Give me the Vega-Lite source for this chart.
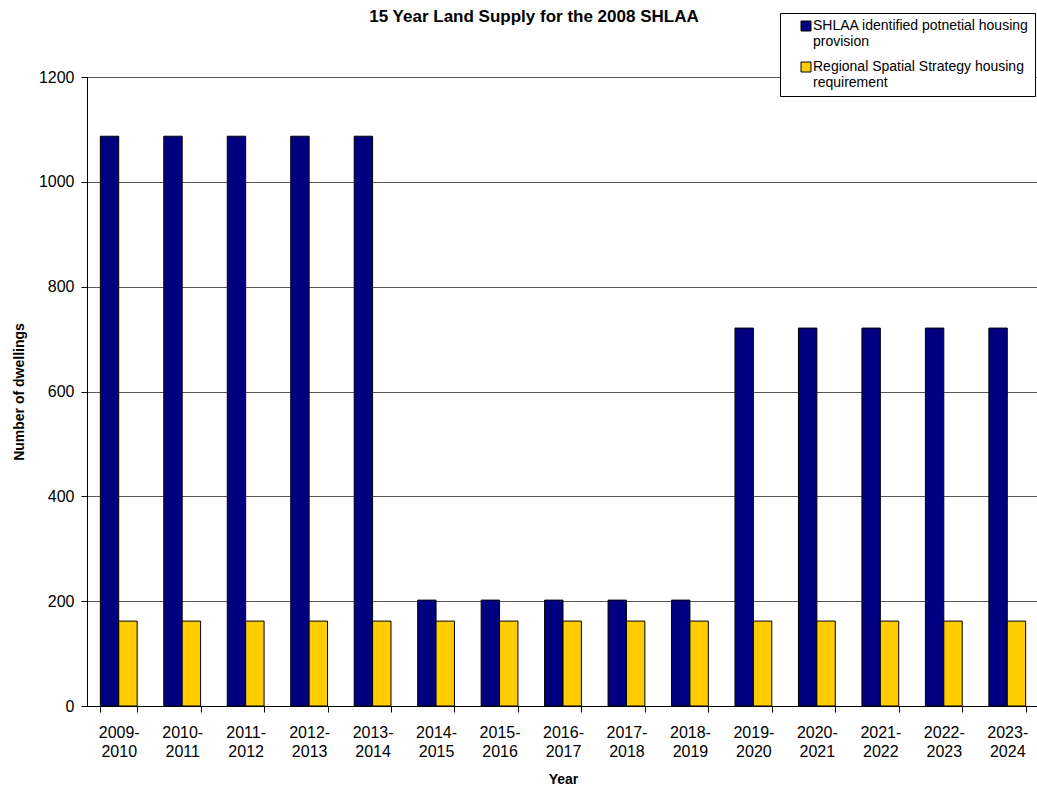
{
  "$schema": "https://vega.github.io/schema/vega-lite/v6.json",
  "width": 952,
  "height": 629,
  "autosize": {"type": "none"},
  "padding": {"left": 87, "top": 77, "right": 0, "bottom": 83},
  "background": "white",
  "title": {
    "text": "15 Year Land Supply for the 2008 SHLAA",
    "font": "Liberation Sans",
    "fontSize": 17,
    "fontWeight": "bold",
    "color": "#000",
    "anchor": "middle",
    "frame": "group",
    "dx": -29,
    "offset": -13
  },
  "config": {
    "view": {"stroke": null},
    "font": "Liberation Sans"
  },
  "data": {
    "values": [
      {"year": "2009-2010", "series": "SHLAA identified potnetial housing provision", "value": 1087},
      {"year": "2009-2010", "series": "Regional Spatial Strategy housing requirement", "value": 162},
      {"year": "2010-2011", "series": "SHLAA identified potnetial housing provision", "value": 1087},
      {"year": "2010-2011", "series": "Regional Spatial Strategy housing requirement", "value": 162},
      {"year": "2011-2012", "series": "SHLAA identified potnetial housing provision", "value": 1087},
      {"year": "2011-2012", "series": "Regional Spatial Strategy housing requirement", "value": 162},
      {"year": "2012-2013", "series": "SHLAA identified potnetial housing provision", "value": 1087},
      {"year": "2012-2013", "series": "Regional Spatial Strategy housing requirement", "value": 162},
      {"year": "2013-2014", "series": "SHLAA identified potnetial housing provision", "value": 1087},
      {"year": "2013-2014", "series": "Regional Spatial Strategy housing requirement", "value": 162},
      {"year": "2014-2015", "series": "SHLAA identified potnetial housing provision", "value": 202},
      {"year": "2014-2015", "series": "Regional Spatial Strategy housing requirement", "value": 162},
      {"year": "2015-2016", "series": "SHLAA identified potnetial housing provision", "value": 202},
      {"year": "2015-2016", "series": "Regional Spatial Strategy housing requirement", "value": 162},
      {"year": "2016-2017", "series": "SHLAA identified potnetial housing provision", "value": 202},
      {"year": "2016-2017", "series": "Regional Spatial Strategy housing requirement", "value": 162},
      {"year": "2017-2018", "series": "SHLAA identified potnetial housing provision", "value": 202},
      {"year": "2017-2018", "series": "Regional Spatial Strategy housing requirement", "value": 162},
      {"year": "2018-2019", "series": "SHLAA identified potnetial housing provision", "value": 202},
      {"year": "2018-2019", "series": "Regional Spatial Strategy housing requirement", "value": 162},
      {"year": "2019-2020", "series": "SHLAA identified potnetial housing provision", "value": 721},
      {"year": "2019-2020", "series": "Regional Spatial Strategy housing requirement", "value": 162},
      {"year": "2020-2021", "series": "SHLAA identified potnetial housing provision", "value": 721},
      {"year": "2020-2021", "series": "Regional Spatial Strategy housing requirement", "value": 162},
      {"year": "2021-2022", "series": "SHLAA identified potnetial housing provision", "value": 721},
      {"year": "2021-2022", "series": "Regional Spatial Strategy housing requirement", "value": 162},
      {"year": "2022-2023", "series": "SHLAA identified potnetial housing provision", "value": 721},
      {"year": "2022-2023", "series": "Regional Spatial Strategy housing requirement", "value": 162},
      {"year": "2023-2024", "series": "SHLAA identified potnetial housing provision", "value": 721},
      {"year": "2023-2024", "series": "Regional Spatial Strategy housing requirement", "value": 162}
    ]
  },
  "mark": {"type": "bar", "stroke": "#000", "strokeWidth": 1},
  "encoding": {
    "x": {
      "field": "year",
      "type": "nominal",
      "sort": null,
      "scale": {"paddingInner": 0.42, "paddingOuter": 0.21},
      "axis": {
        "title": "Year",
        "titleFont": "Liberation Sans",
        "titleFontSize": 14,
        "titleFontWeight": "bold",
        "titleColor": "#000",
        "titlePadding": 13,
        "labelAngle": 0,
        "labelFont": "Liberation Sans",
        "labelFontSize": 16,
        "labelColor": "#000",
        "labelLineHeight": 19,
        "labelPadding": 12,
        "labelExpr": "[substring(datum.label, 0, 5), substring(datum.label, 5, 9)]",
        "tickBand": "extent",
        "tickSize": 6,
        "tickColor": "#000",
        "domainColor": "#000",
        "grid": false
      }
    },
    "xOffset": {
      "field": "series",
      "type": "nominal",
      "sort": ["SHLAA identified potnetial housing provision", "Regional Spatial Strategy housing requirement"],
      "scale": {"paddingInner": 0, "paddingOuter": 0}
    },
    "y": {
      "field": "value",
      "type": "quantitative",
      "scale": {"domain": [0, 1200], "nice": false},
      "axis": {
        "title": "Number of dwellings",
        "titleFont": "Liberation Sans",
        "titleFontSize": 14,
        "titleFontWeight": "bold",
        "titleColor": "#000",
        "titlePadding": 12,
        "values": [0, 200, 400, 600, 800, 1000, 1200],
        "format": "d",
        "labelFont": "Liberation Sans",
        "labelFontSize": 16,
        "labelColor": "#000",
        "labelPadding": 7,
        "tickSize": 6,
        "tickColor": "#000",
        "domainColor": "#000",
        "grid": true,
        "gridColor": "#555",
        "gridWidth": 1
      }
    },
    "color": {
      "field": "series",
      "type": "nominal",
      "scale": {
        "domain": ["SHLAA identified potnetial housing provision", "Regional Spatial Strategy housing requirement"],
        "range": ["#000080", "#FFCC00"]
      },
      "legend": {
        "title": null,
        "orient": "none",
        "legendX": 693,
        "legendY": -64,
        "fillColor": "white",
        "strokeColor": "#000",
        "padding": 6,
        "symbolOffset": 13,
        "symbolType": "square",
        "symbolSize": 100,
        "symbolStrokeColor": "#000",
        "symbolStrokeWidth": 1,
        "labelFont": "Liberation Sans",
        "labelFontSize": 14,
        "labelColor": "#000",
        "labelLineHeight": 14,
        "labelLimit": 300,
        "labelOffset": 0,
        "labelBaseline": "middle",
        "rowPadding": 11,
        "labelExpr": "datum.label == 'SHLAA identified potnetial housing provision' ? ['SHLAA identified potnetial housing', 'provision'] : ['Regional Spatial Strategy housing', 'requirement']"
      }
    }
  }
}
